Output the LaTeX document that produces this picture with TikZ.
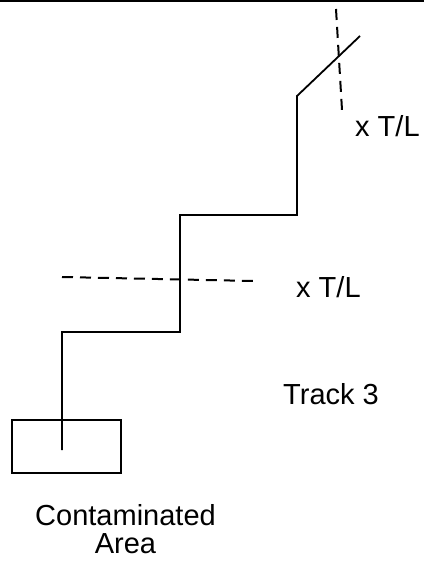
\documentclass[tikz,border=0pt]{standalone}
\usepackage{fontspec}
\setmainfont{Liberation Sans}
\begin{document}
\begin{tikzpicture}[x=1pt,y=-1pt]
\tikzstyle{every node}=[inner sep=0pt,font=\fontsize{29}{28}\selectfont]
\tikzstyle{track}=[line width=1.8pt]
\tikzstyle{tline}=[line width=2pt,dash pattern=on 11pt off 7pt]

\useasboundingbox (0,0) rectangle (424,561);
\draw[line width=2pt] (0,1) -- (424,1);

\node[draw,line width=1.4pt,minimum width=109pt,minimum height=53pt] (area) at (66.5,446.5) {};
\node[align=center,anchor=base] (arealabel) at (125.5,553) {Contaminated\\Area};

\coordinate (t0) at (62,450);
\coordinate (t1) at (62,332);
\coordinate (t2) at (180,332);
\coordinate (t3) at (180,215);
\coordinate (t4) at (297,215);
\coordinate (t5) at (297,96);
\coordinate (t6) at (360,36);
\draw[track] (t0) -- (t1) -- (t2) -- (t3) -- (t4) -- (t5) -- (t6);

\coordinate (lowa) at (62,277);
\coordinate (lowb) at (254,281);
\draw[tline] (lowa) -- (lowb);
\coordinate (upa) at (336,9);
\coordinate (upb) at (342,110);
\draw[tline] (upa) -- (upb);

\node[anchor=base west] (uptl) at (355,137) {x T/L};
\node[anchor=base west] (lowtl) at (296,297) {x T/L};
\node[anchor=base west] (track3) at (283,404) {Track 3};
\end{tikzpicture}
\end{document}
